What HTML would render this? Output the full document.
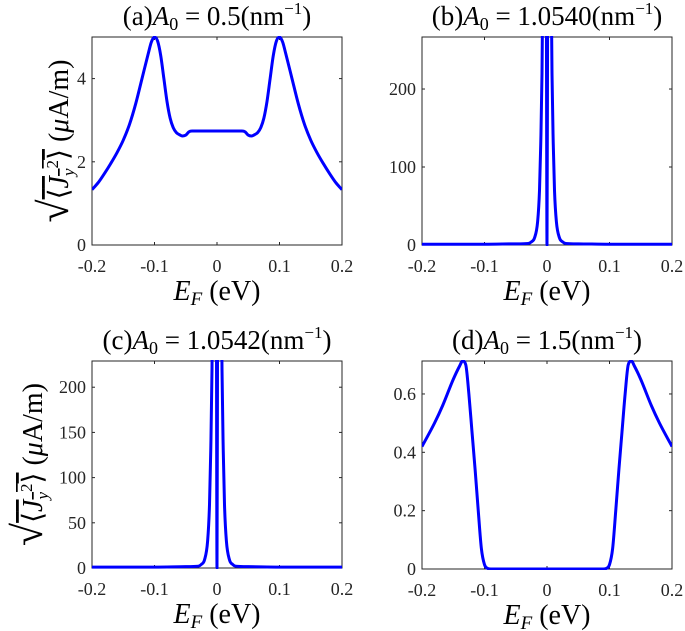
<!DOCTYPE html>
<html><head><meta charset="utf-8"><style>
body{margin:0;background:#fff}
svg{display:block;font-family:"Liberation Serif",serif}
.tk{font-size:18px;fill:#262626}
.tt{font-size:27px;fill:#000}
.lb{font-size:28px;fill:#000}
</style></head><body>
<svg id="fig" width="685" height="631" viewBox="0 0 685 631"></svg>
<script>
// Panel (a)
const xA=[-0.2,-0.19,-0.18,-0.17,-0.16,-0.15,-0.14,-0.13,-0.12,-0.11,-0.105,-0.1,-0.095,-0.09,-0.085,-0.08,-0.075,-0.07,-0.065,-0.06,-0.055,-0.05,-0.045,-0.04,0,0.04,0.045,0.05,0.055,0.06,0.065,0.07,0.075,0.08,0.085,0.09,0.095,0.1,0.105,0.11,0.12,0.13,0.14,0.15,0.16,0.17,0.18,0.19,0.2];
const yA=[1.33,1.5,1.72,1.96,2.22,2.52,2.9,3.4,4.0,4.6,4.88,5.0,4.9,4.55,4.0,3.45,3.05,2.82,2.7,2.65,2.62,2.64,2.72,2.74,2.74,2.74,2.72,2.64,2.62,2.65,2.7,2.82,3.05,3.45,4.0,4.55,4.9,5.0,4.88,4.6,4.0,3.4,2.9,2.52,2.22,1.96,1.72,1.5,1.33];
// Panel (b)
const xB=[-0.2,-0.1,-0.05,-0.03,-0.025,-0.02,-0.015,-0.012,-0.01,-0.008,-0.006,-0.003,-0.001,0,0.001,0.003,0.006,0.008,0.01,0.012,0.015,0.02,0.025,0.03,0.05,0.1,0.2];
const yB=[1,1,1.5,2,4,9,30,70,130,220,400,600,300,0,300,600,400,220,130,70,30,9,4,2,1.5,1,1];
// Panel (c)
const xC=xB;
const yC=[1,1,1.5,2,4,9,30,70,130,220,400,600,300,0,300,600,400,220,130,70,30,9,4,2,1.5,1,1];
// Panel (d)
const xD=[-0.2,-0.18,-0.167,-0.15,-0.14,-0.135,-0.13,-0.125,-0.12,-0.115,-0.11,-0.105,-0.1,-0.095,-0.09,0,0.09,0.095,0.1,0.105,0.11,0.115,0.12,0.125,0.13,0.135,0.14,0.15,0.167,0.18,0.2];
const yD=[0.42,0.5,0.56,0.65,0.695,0.713,0.70,0.6,0.47,0.34,0.2,0.07,0.015,0.002,0,0,0,0.002,0.015,0.07,0.2,0.34,0.47,0.6,0.70,0.713,0.695,0.65,0.56,0.5,0.42];
const xTicks=[-0.2,-0.1,0,0.1,0.2];
const xTickLabels=["-0.2","-0.1","0","0.1","0.2"];
const ticksA=[0,2,4], ticksB=[0,100,200], ticksC=[0,50,100,150,200], ticksD=[0,0.2,0.4,0.6];

const NS="http://www.w3.org/2000/svg";
const svg=document.getElementById('fig');
function el(t,a,p){const e=document.createElementNS(NS,t);for(const k in a)e.setAttribute(k,a[k]);(p||svg).appendChild(e);return e;}
function monoPath(P){
 const n=P.length,d=[],m=[];
 for(let i=0;i<n-1;i++)d.push((P[i+1][1]-P[i][1])/(P[i+1][0]-P[i][0]));
 m[0]=d[0];m[n-1]=d[n-2];
 for(let i=1;i<n-1;i++){m[i]=(d[i-1]*d[i]<=0)?0:(d[i-1]+d[i])/2;}
 for(let i=0;i<n-1;i++){if(d[i]===0){m[i]=0;m[i+1]=0;continue;}const a=m[i]/d[i],b=m[i+1]/d[i],s=a*a+b*b;if(s>9){const t=3/Math.sqrt(s);m[i]=t*a*d[i];m[i+1]=t*b*d[i];}}
 let s='M'+P[0][0].toFixed(2)+','+P[0][1].toFixed(2);
 for(let i=0;i<n-1;i++){const h=P[i+1][0]-P[i][0];
  s+=' C'+(P[i][0]+h/3).toFixed(2)+','+(P[i][1]+m[i]*h/3).toFixed(2)+' '+(P[i+1][0]-h/3).toFixed(2)+','+(P[i+1][1]-m[i+1]*h/3).toFixed(2)+' '+P[i+1][0].toFixed(2)+','+P[i+1][1].toFixed(2);}
 return s;
}

const panels=[
 {id:'a',x0:92,x1:342,y0:37,y1:245,ymax:5,xs:xA,ys:yA,yt:ticksA,title:['(a)','0.5'],ylab:68},
 {id:'b',x0:422,x1:672,y0:37,y1:245,ymax:266.7,xs:xB,ys:yB,yt:ticksB,title:['(b)','1.0540'],ylab:0},
 {id:'c',x0:92,x1:342,y0:361,y1:568,ymax:229,xs:xC,ys:yC,yt:ticksC,title:['(c)','1.0542'],ylab:42},
 {id:'d',x0:422,x1:672,y0:361,y1:569,ymax:0.713,xs:xD,ys:yD,yt:ticksD,title:['(d)','1.5'],ylab:0}
];
panels.forEach(p=>{
 const g=el('g',{});
 
 
 const sx=v=>p.x0+(v+0.2)/0.4*(p.x1-p.x0);
 const sy=v=>p.y1-v/p.ymax*(p.y1-p.y0);
 const cp=el('clipPath',{id:'cp'+p.id},g);
 el('rect',{x:p.x0,y:p.y0-1,width:p.x1-p.x0,height:p.y1-p.y0+2},cp);
 const box=el('rect',{x:p.x0,y:p.y0,width:p.x1-p.x0,height:p.y1-p.y0,fill:'none',stroke:'#262626','stroke-width':1},g);
 
 
 xTicks.forEach((t,i)=>{
  const x=sx(t);
  el('line',{x1:x,x2:x,y1:p.y1,y2:p.y1-3,stroke:'#262626'},g);
  el('line',{x1:x,x2:x,y1:p.y0,y2:p.y0+3,stroke:'#262626'},g);
  const tx=el('text',{x:x,y:p.y1+27,'text-anchor':'middle',class:'tk'},g);
  tx.textContent=xTickLabels[i];
  
  
 });
 p.yt.forEach(t=>{
  const y=sy(t);
  el('line',{x1:p.x0,x2:p.x0+3,y1:y,y2:y,stroke:'#262626'},g);
  el('line',{x1:p.x1,x2:p.x1-3,y1:y,y2:y,stroke:'#262626'},g);
  const tx=el('text',{x:p.x0-6,y:y+6,'text-anchor':'end',class:'tk'},g);
  tx.textContent=String(t);
  
  
 });
 const P=p.xs.map((x,i)=>[sx(x),sy(p.ys[i])]);
 const line=el('path',{d:monoPath(P),fill:'none',stroke:'#0000ff','stroke-width':3,'stroke-linejoin':'round','clip-path':'url(#cp'+p.id+')'},g);
 
 
 const cx=(p.x0+p.x1)/2;
 const tt=el('text',{x:cx,y:p.y0-12,'text-anchor':'middle',class:'tt'},g);
 tt.innerHTML=p.title[0]+'<tspan font-style="italic">A</tspan><tspan font-size="18" dy="5">0</tspan><tspan dy="-5"> = '+p.title[1]+'(nm</tspan><tspan font-size="17" dy="-11">−1</tspan><tspan dy="11">)</tspan>';
 
 
 const xl=el('text',{x:cx,y:p.y1+55,'text-anchor':'middle',class:'lb'},g);
 xl.innerHTML='<tspan font-style="italic">E</tspan><tspan font-size="19" font-style="italic" dy="5">F</tspan><tspan dy="-5"> (eV)</tspan>';
 
 
 if(p.ylab){
  const cy=(p.y0+p.y1)/2;
  const yl=el('text',{x:0,y:0,'text-anchor':'middle',class:'lb',transform:'translate('+p.ylab+','+cy+') rotate(-90)'},g);
  yl.setAttribute('font-size','27');
  yl.innerHTML='<tspan font-size="42">√</tspan><tspan style="text-decoration:overline">⟨<tspan font-style="italic">J</tspan><tspan font-size="17" font-style="italic" dy="6">y</tspan><tspan font-size="17" dy="-16">2</tspan><tspan dy="10">⟩</tspan></tspan> (<tspan font-style="italic">μ</tspan>A/m)';
  
  
 }
});
</script>
</body></html>
